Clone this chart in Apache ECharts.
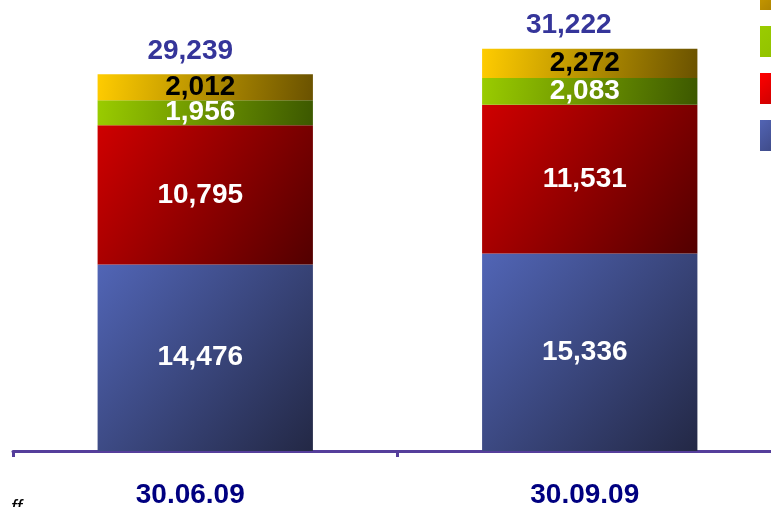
<!DOCTYPE html>
<html>
<head>
<meta charset="utf-8">
<script src="https://cdn.jsdelivr.net/npm/echarts@6/dist/echarts.min.js"></script>
<style>
html,body{margin:0;padding:0;background:#fff;}
#main{width:771px;height:507px;}
</style>
</head>
<body>
<div id="main"></div>
<script>
// ---- data ----
var categories = ['30.06.09', '30.09.09'];
var seriesNames = ['Segment 1', 'Segment 2', 'Segment 3', 'Segment 4'];
var seg1 = [14476, 15336];
var seg2 = [10795, 11531];
var seg3 = [1956, 2083];
var seg4 = [2012, 2272];
var totals = [29239, 31222];

function grad(c0, c1) {
  return { type: 'linear', x: 0, y: 0, x2: 1, y2: 1,
    colorStops: [{ offset: 0, color: c0 }, { offset: 1, color: c1 }] };
}
var fillColors = [
  grad('#5165b6', '#232845'),
  grad('#cf0000', '#520000'),
  grad('#9acc00', '#3c5800'),
  grad('#ffcc00', '#6a5200')
];
var legendColors = [
  grad('#5264b4', '#374178'),
  grad('#ff0000', '#bb0000'),
  grad('#9acc00', '#8fbf00'),
  grad('#d4a400', '#a07800')
];
var labelColors = ['#ffffff', '#ffffff', '#ffffff', '#000000'];
var allSegs = [seg1, seg2, seg3, seg4];

function fmt(v) { return Number(v).toLocaleString('en-US'); }

var series = allSegs.map(function (arr, k) {
  return {
    name: seriesNames[k],
    type: 'bar',
    stack: 'total',
    barWidth: '56%',
    data: arr,
    itemStyle: { color: fillColors[k] },
    label: {
      show: true,
      position: 'inside',
      offset: [-5, 0],
      color: labelColors[k],
      fontFamily: 'Liberation Sans, Arial, sans-serif',
      fontWeight: 'bold',
      fontSize: 28,
      formatter: function (p) { return fmt(p.value); }
    },
    emphasis: { disabled: true },
    silent: true
  };
});
var totalOffsets = [[-15, 0], [-21, 0]];
series.push({
  name: 'Total',
  type: 'bar',
  barWidth: '56%',
  barGap: '-100%',
  data: totals.map(function (v, i) {
    return { value: v, label: { offset: totalOffsets[i] } };
  }),
  itemStyle: { color: 'rgba(0,0,0,0)' },
  label: {
    show: true,
    position: 'top',
    distance: 9,
    color: '#35359a',
    fontFamily: 'Liberation Sans, Arial, sans-serif',
    fontWeight: 'bold',
    fontSize: 28,
    formatter: function (p) { return fmt(p.value); }
  },
  z: 1,
  emphasis: { disabled: true },
  silent: true
});

var legendOrder = [3, 2, 1, 0];
var chart = echarts.init(document.getElementById('main'), null, { renderer: 'canvas' });
var labelBase = { color: '#000080', fontFamily: 'Liberation Sans, Arial, sans-serif', fontWeight: 'bold', fontSize: 28 };
chart.setOption({
  animation: false,
  backgroundColor: '#ffffff',
  grid: { left: 13, width: 769, top: 0, bottom: 56, containLabel: false, outerBoundsMode: 'none' },
  legend: {
    orient: 'vertical',
    left: 760,
    top: -21,
    padding: 0,
    itemWidth: 30,
    itemHeight: 31,
    itemGap: 16,
    icon: 'rect',
    textStyle: { color: '#000', fontSize: 16 },
    data: legendOrder.map(function (k) {
      return { name: seriesNames[k], itemStyle: { color: legendColors[k] } };
    })
  },
  xAxis: {
    type: 'category',
    data: categories,
    axisLine: { show: true, lineStyle: { color: '#553e9b', width: 3 } },
    axisTick: { show: true, length: 6, lineStyle: { color: '#553e9b', width: 3 } },
    axisLabel: {
      margin: 30,
      formatter: function (v, i) { return '{c' + i + '|' + v + '}'; },
      rich: {
        c0: Object.assign({ padding: [0, 30, 0, 0] }, labelBase),
        c1: Object.assign({ padding: [0, 10, 0, 0] }, labelBase)
      }
    }
  },
  yAxis: {
    type: 'value',
    min: 0,
    max: 35000,
    show: false,
    splitLine: { show: false }
  },
  graphic: [{
    type: 'text',
    left: 11,
    top: 498,
    style: { text: 'ff', fontSize: 20, fontStyle: 'italic', fill: '#000', fontFamily: 'Liberation Sans, Arial, sans-serif' }
  }],
  series: series
});
</script>
</body>
</html>
